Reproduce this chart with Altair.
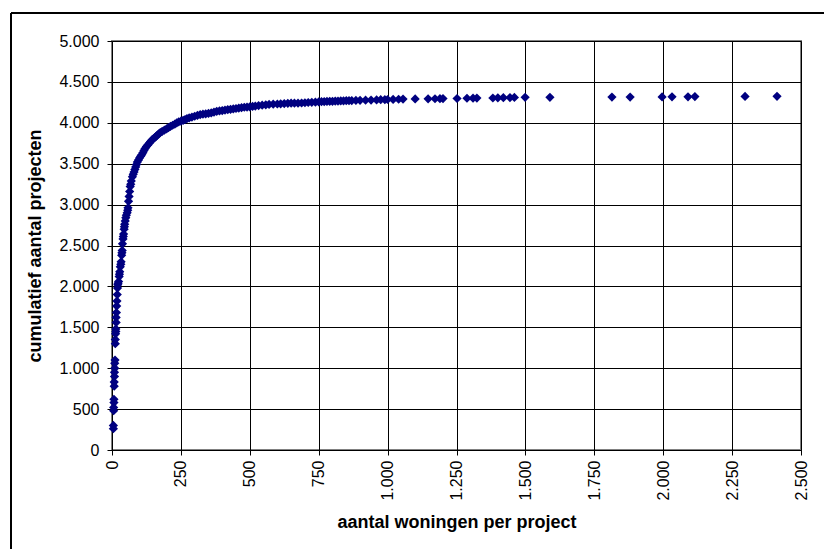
import altair as alt
import pandas as pd

# aantal woningen per project (x) en cumulatief aantal projecten (y)
woningen = [5, 5, 6, 6, 7, 7, 8, 8, 9, 9, 10, 10, 12, 12, 13, 14, 15, 15, 16, 17,
            18, 20, 21, 24, 26, 28, 30, 33, 35, 37, 38, 40, 42, 44, 46, 48, 50, 55,
            58, 60, 62, 64, 66, 70, 74, 80, 86, 92, 100, 108, 116, 125, 135, 145,
            155, 165, 175, 190, 205, 220, 235, 250, 265, 280, 300, 320, 340, 360,
            380, 400, 420, 440, 460, 480, 500, 520, 545, 570, 600, 625, 650, 675,
            700, 725, 750, 770, 790, 810, 830, 850, 870, 885, 900, 920, 940, 960,
            975, 990, 1000, 1020, 1040, 1056, 1100, 1147, 1172, 1190, 1201, 1252,
            1288, 1310, 1324, 1382, 1400, 1420, 1444, 1460, 1499, 1589, 1814, 1880,
            1996, 2032, 2090, 2115, 2297, 2413]
cumulatief = [260, 300, 480, 520, 580, 620, 780, 830, 900, 950, 1000, 1060, 1300,
              1350, 1420, 1480, 1560, 1620, 1680, 1760, 1820, 1980, 2020, 2060, 2120,
              2180, 2240, 2300, 2380, 2440, 2520, 2580, 2640, 2700, 2760, 2800, 2840,
              2900, 2960, 3040, 3100, 3160, 3220, 3290, 3340, 3400, 3460, 3520, 3570,
              3610, 3660, 3710, 3750, 3790, 3820, 3850, 3880, 3910, 3940, 3970, 4000,
              4020, 4040, 4060, 4080, 4100, 4110, 4120, 4140, 4150, 4160, 4170, 4180,
              4190, 4195, 4205, 4215, 4225, 4230, 4235, 4240, 4240, 4245, 4250, 4255,
              4260, 4262, 4265, 4268, 4270, 4272, 4274, 4275, 4276, 4278, 4280, 4282,
              4283, 4285, 4286, 4288, 4290, 4292, 4293, 4294, 4295, 4296, 4297, 4300,
              4301, 4302, 4303, 4305, 4307, 4308, 4310, 4311, 4312, 4314, 4315, 4316,
              4317, 4318, 4320, 4322, 4324]

# extra projecten in het dichte deel van de curve
woningen_extra = [11, 14, 19, 22, 27, 32, 36, 41, 45, 52, 57, 68, 77, 83, 89, 96,
                  104, 112, 120, 130, 140, 150, 160, 170, 182, 198, 212, 228, 242,
                  258, 272, 290, 310, 330, 350, 370, 390, 410, 430, 450, 470, 490,
                  510, 532, 558, 585, 612, 638, 662, 688, 712, 738, 760, 780, 800,
                  820, 840, 860]
cumulatief_extra = [1100, 1450, 1900, 2040, 2150, 2270, 2410, 2610, 2730, 2870, 2930,
                    3250, 3370, 3430, 3490, 3545, 3590, 3635, 3685, 3730, 3770, 3805,
                    3835, 3865, 3895, 3925, 3955, 3985, 4010, 4030, 4050, 4070, 4090,
                    4105, 4115, 4130, 4145, 4155, 4165, 4175, 4185, 4192, 4200, 4210,
                    4220, 4228, 4232, 4238, 4240, 4242, 4248, 4252, 4258, 4261, 4263,
                    4266, 4269, 4271]

x_ticks = [0, 250, 500, 750, 1000, 1250, 1500, 1750, 2000, 2250, 2500]
y_ticks = [0, 500, 1000, 1500, 2000, 2500, 3000, 3500, 4000, 4500, 5000]

df = pd.DataFrame({"x": woningen + woningen_extra, "y": cumulatief + cumulatief_extra})

FONT = "Liberation Sans"
dutch = "replace(format(datum.value, ','), ',', '.')"

points = alt.Chart(df).mark_point(
    shape="diamond", filled=True, size=85, color="#000080", opacity=1
).encode(
    x=alt.X("x:Q", scale=alt.Scale(domain=[0, 2500], nice=False),
            axis=alt.Axis(values=x_ticks, title="aantal woningen per project",
                          labelExpr=dutch, labelAngle=270, labelAlign="right",
                          labelBaseline="middle", labelPadding=5, tickSize=5,
                          titlePadding=13)),
    y=alt.Y("y:Q", scale=alt.Scale(domain=[0, 5000], nice=False),
            axis=alt.Axis(values=y_ticks, title="cumulatief aantal projecten",
                          labelExpr=dutch, labelPadding=8, tickSize=5,
                          titlePadding=14)),
)

frame_top = alt.Chart(df).mark_rule(color="black", strokeWidth=2).encode(
    x=alt.value(-101), x2=alt.value(712), y=alt.value(-28)
)
frame_left = alt.Chart(df).mark_rule(color="black", strokeWidth=2).encode(
    x=alt.value(-101), y=alt.value(-28), y2=alt.value(508)
)

chart = alt.layer(points, frame_top, frame_left).properties(
    width=689, height=409,
    autosize=alt.AutoSizeParams(type="none"),
    padding={"left": 112, "top": 41, "right": 23, "bottom": 99},
    background="white",
).configure_view(
    stroke="#808080", strokeWidth=2
).configure_axis(
    grid=True, gridColor="black", gridWidth=1, gridOpacity=1,
    domainColor="black", domainWidth=1, tickColor="black", tickWidth=1,
    labelFont=FONT, labelFontSize=16, labelColor="black",
    titleFont=FONT, titleFontSize=18, titleFontWeight="bold", titleColor="black",
)

chart.save("out.html", embed_options={"renderer": "svg", "actions": False})
